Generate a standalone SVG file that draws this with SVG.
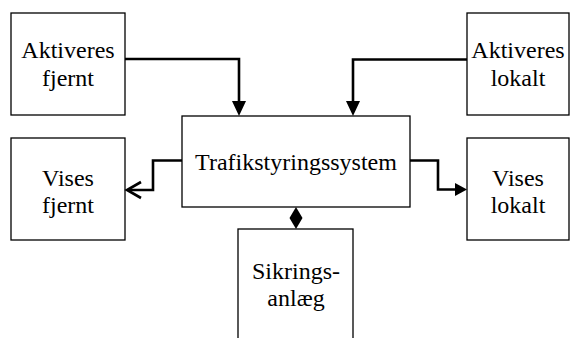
<svg xmlns="http://www.w3.org/2000/svg" width="571" height="338" viewBox="0 0 571 338">
<style>
.box{fill:#fff;stroke:#000;stroke-width:1.3}
.lbl{font-size:24px;fill:#000;text-anchor:middle}
.con{fill:none;stroke:#000;stroke-width:2.6}
</style>
<rect width="571" height="338" fill="#fff"/>
<g font-family="'Liberation Serif', 'Times New Roman', Tinos, 'DejaVu Serif', serif">
<g id="aktiveres-fjernt"><rect class="box" x="11" y="13" width="114" height="102"/><text class="lbl" x="68" y="58">Aktiveres</text><text class="lbl" x="68" y="86">fjernt</text></g>
<g id="aktiveres-lokalt"><rect class="box" x="467" y="13" width="102" height="102"/><text class="lbl" x="518" y="58">Aktiveres</text><text class="lbl" x="518" y="86">lokalt</text></g>
<g id="trafikstyringssystem"><rect class="box" x="182" y="116" width="228" height="91"/><text class="lbl" x="296" y="170">Trafikstyringssystem</text></g>
<g id="vises-fjernt"><rect class="box" x="11" y="138" width="114" height="102"/><text class="lbl" x="68" y="186">Vises</text><text class="lbl" x="68" y="213">fjernt</text></g>
<g id="vises-lokalt"><rect class="box" x="467" y="138" width="102" height="102"/><text class="lbl" x="518" y="186">Vises</text><text class="lbl" x="518" y="213">lokalt</text></g>
<g id="sikringsanlaeg"><rect class="box" x="238" y="229" width="115" height="115"/><text class="lbl" x="296" y="279">Sikrings-</text><text class="lbl" x="296" y="306">anlæg</text></g>
</g>
<g id="connectors">
<polyline class="con" points="125,59 239,59 239,102"/>
<polygon points="232,101 246,101 239,116" fill="#000"/>
<polyline class="con" points="467,59.5 353,59.5 353,102"/>
<polygon points="346,101 360,101 353,116" fill="#000"/>
<polyline class="con" points="182,160.5 153,160.5 153,190 128,190"/>
<polyline class="con" points="141,182 127,190 141,198"/>
<polyline class="con" points="410,160.5 438,160.5 438,189.5 456,189.5"/>
<polygon points="455,183 455,196 467,189.5" fill="#000"/>
<polygon points="296,207 302.5,218 296,229 289.5,218" fill="#000"/>
</g>
</svg>
